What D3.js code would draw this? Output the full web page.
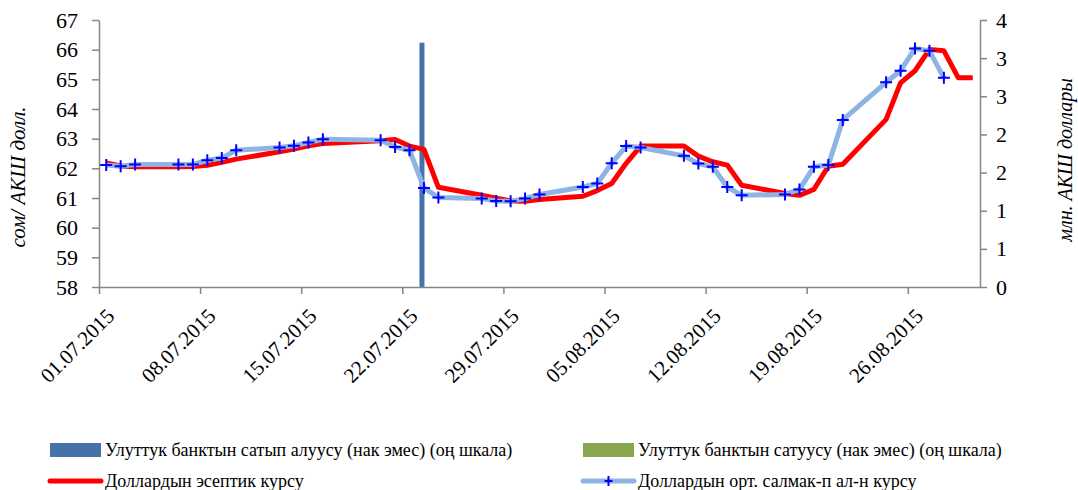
<!DOCTYPE html>
<html>
<head>
<meta charset="utf-8">
<script src="https://cdn.jsdelivr.net/npm/d3@7/dist/d3.min.js"></script>
<style>
  body { margin: 0; background: #fff; }
  svg, svg text { font-family: "Liberation Serif", "Times New Roman", "DejaVu Serif", serif !important; }
</style>
</head>
<body>
<svg id="chart" width="1078" height="490"></svg>
<script>
// ---- data ----
const avgDates = ["01.07.2015","02.07.2015","03.07.2015","06.07.2015","07.07.2015","08.07.2015","09.07.2015","10.07.2015",
  "13.07.2015","14.07.2015","15.07.2015","16.07.2015","20.07.2015","21.07.2015","22.07.2015","23.07.2015","24.07.2015",
  "27.07.2015","28.07.2015","29.07.2015","30.07.2015","31.07.2015","03.08.2015","04.08.2015","05.08.2015","06.08.2015","07.08.2015",
  "10.08.2015","11.08.2015","12.08.2015","13.08.2015","14.08.2015","17.08.2015","18.08.2015","19.08.2015","20.08.2015","21.08.2015",
  "24.08.2015","25.08.2015","26.08.2015","27.08.2015","28.08.2015"];
const avgRate = [62.11,62.07,62.13,62.13,62.13,62.27,62.35,62.61,
  62.70,62.76,62.87,62.98,62.95,62.72,62.61,61.34,61.02,
  60.98,60.90,60.89,60.98,61.12,61.37,61.49,62.17,62.75,62.70,
  62.42,62.16,62.05,61.37,61.09,61.12,61.29,62.05,62.11,63.63,
  64.90,65.29,66.04,65.96,65.05];

const offDates = ["01.07.2015","02.07.2015","03.07.2015","06.07.2015","07.07.2015","08.07.2015","09.07.2015","10.07.2015",
  "13.07.2015","14.07.2015","15.07.2015","16.07.2015","20.07.2015","21.07.2015","22.07.2015","23.07.2015","24.07.2015",
  "27.07.2015","28.07.2015","29.07.2015","30.07.2015","31.07.2015","03.08.2015","04.08.2015","05.08.2015","06.08.2015","07.08.2015",
  "10.08.2015","11.08.2015","12.08.2015","13.08.2015","14.08.2015","17.08.2015","18.08.2015","19.08.2015","20.08.2015","21.08.2015",
  "24.08.2015","25.08.2015","26.08.2015","27.08.2015","28.08.2015","29.08.2015","30.08.2015"];
const offRate = [62.18,62.08,62.05,62.05,62.06,62.10,62.20,62.31,
  62.56,62.65,62.76,62.84,62.93,62.97,62.75,62.64,61.36,
  61.09,60.99,60.90,60.89,60.95,61.06,61.25,61.49,62.17,62.75,
  62.75,62.41,62.22,62.11,61.43,61.15,61.09,61.29,62.07,62.14,
  63.65,64.88,65.29,66.01,65.96,65.05,65.05];

const buyDates = ["23.07.2015"];
const buyValues = [3.66];
const sellDates = [];
const sellValues = [];

const tickLabels = ["01.07.2015","08.07.2015","15.07.2015","22.07.2015","29.07.2015","05.08.2015","12.08.2015","19.08.2015","26.08.2015"];
const leftTicks = [58,59,60,61,62,63,64,65,66,67];
const rightTicks = [0,4/7,8/7,12/7,16/7,20/7,24/7,4];

const legendLabels = ["Улуттук банктын сатып алуусу (нак эмес) (оң шкала)",
  "Улуттук банктын сатуусу (нак эмес) (оң шкала)",
  "Доллардын эсептик курсу",
  "Доллардын орт. салмак-п ал-н курсу"];
const leftTitle = "сом/ АКШ долл.";
const rightTitle = "млн. АКШ доллары";

// ---- setup ----
const FONT = "'Liberation Serif', 'Times New Roman', 'DejaVu Serif', serif";
const parse = d3.timeParse("%d.%m.%Y");
const fmt = d3.timeFormat("%d.%m.%Y");
const mid = d => d3.timeHour.offset(parse(d), 12);

const L = 99, R = 980, T = 20, B = 287;
const svg = d3.select("#chart");

const x = d3.scaleTime().domain([parse("01.07.2015"), parse("31.08.2015")]).range([L, R]);
const yL = d3.scaleLinear().domain([58, 67]).range([B, T]);
const yR = d3.scaleLinear().domain([0, 4]).range([B, T]);

const axisColor = "#868686";

// bars (right axis)
const barW = 5;
svg.append("g").selectAll("rect").data(buyDates.map((d, i) => ({d, v: buyValues[i]})))
  .join("rect")
  .attr("x", p => x(mid(p.d)) - barW / 2 - 2)
  .attr("width", barW)
  .attr("y", p => yR(p.v))
  .attr("height", p => yR(0) - yR(p.v))
  .attr("fill", "#4572A7");
svg.append("g").selectAll("rect").data(sellDates.map((d, i) => ({d, v: sellValues[i]})))
  .join("rect")
  .attr("x", p => x(mid(p.d)) + barW / 2)
  .attr("width", barW)
  .attr("y", p => yR(p.v))
  .attr("height", p => yR(0) - yR(p.v))
  .attr("fill", "#89A54E");

// axes
const gL = svg.append("g").attr("transform", `translate(${L},0)`)
  .call(d3.axisLeft(yL).tickValues(leftTicks).tickSize(7).tickSizeOuter(0).tickFormat(d3.format("d")));
const gR = svg.append("g").attr("transform", `translate(${R},0)`)
  .call(d3.axisRight(yR).tickValues(rightTicks).tickSize(7).tickSizeOuter(0).tickFormat(d3.format(".0f")));
const gB = svg.append("g").attr("transform", `translate(0,${B})`)
  .call(d3.axisBottom(x).tickValues(tickLabels.map(parse)).tickSize(7).tickSizeOuter(0).tickFormat(fmt));

[gL, gR, gB].forEach(g => {
  g.attr("font-family", FONT);
  g.select(".domain").attr("stroke", axisColor).attr("stroke-width", 1.5);
  g.selectAll(".tick line").attr("stroke", axisColor).attr("stroke-width", 1.5);
  g.selectAll("text").attr("fill", "#000").style("font-family", FONT).attr("font-size", 22);
});
gL.selectAll(".tick text").attr("x", -21);
gR.selectAll(".tick text").attr("x", 16);
gB.selectAll(".tick text")
  .attr("text-anchor", "end")
  .attr("font-size", 21)
  .attr("transform", "translate(11,25) rotate(-45)")
  .attr("x", 0).attr("y", 0).attr("dy", "0.35em");

// lines
const lineOff = d3.line().x(p => x(mid(p.d))).y(p => yL(p.v));
const offData = offDates.map((d, i) => ({d, v: offRate[i]}));
const avgData = avgDates.map((d, i) => ({d, v: avgRate[i]}));

svg.append("path").datum(offData).attr("d", lineOff)
  .attr("fill", "none").attr("stroke", "#FF0000").attr("stroke-width", 5).attr("stroke-linejoin", "round");
svg.append("path").datum(avgData).attr("d", lineOff)
  .attr("fill", "none").attr("stroke", "#8DB4E2").attr("stroke-width", 5).attr("stroke-linejoin", "round");

const markerSize = 6;
svg.append("g").selectAll("path").data(avgData).join("path")
  .attr("d", p => `M${x(mid(p.d)) - markerSize},${yL(p.v)}h${2 * markerSize}M${x(mid(p.d))},${yL(p.v) - markerSize}v${2 * markerSize}`)
  .attr("stroke", "#0000FF").attr("stroke-width", 2).attr("fill", "none");

// axis titles
svg.append("text").attr("transform", "translate(25,177) rotate(-90)").style("font-family", FONT)
  .attr("text-anchor", "middle").attr("font-style", "italic").attr("font-size", 21).text(leftTitle);
svg.append("text").attr("transform", "translate(1072,160) rotate(-90)").style("font-family", FONT)
  .attr("text-anchor", "middle").attr("font-style", "italic").attr("font-size", 20).text(rightTitle);

// legend
const lg = svg.append("g").attr("font-size", 18);
const rows = [
  {x: 50, y: 450, type: "rect", color: "#4572A7", label: legendLabels[0]},
  {x: 583, y: 450, type: "rect", color: "#89A54E", label: legendLabels[1]},
  {x: 50, y: 481, type: "line", color: "#FF0000", label: legendLabels[2]},
  {x: 583, y: 481, type: "lineMarker", color: "#8DB4E2", label: legendLabels[3]}
];
rows.forEach(r => {
  if (r.type === "rect") {
    lg.append("rect").attr("x", r.x).attr("y", r.y - 7).attr("width", 51).attr("height", 14).attr("fill", r.color);
  } else {
    lg.append("line").attr("x1", r.x).attr("x2", r.x + 51).attr("y1", r.y).attr("y2", r.y)
      .attr("stroke", r.color).attr("stroke-width", 5).attr("stroke-linecap", "round");
    if (r.type === "lineMarker") {
      const cx = r.x + 25.5;
      lg.append("path").attr("d", `M${cx - 4},${r.y}h8M${cx},${r.y - 5}v10`)
        .attr("stroke", "#0000FF").attr("stroke-width", 2);
    }
  }
  lg.append("text").attr("x", r.x + 55).attr("y", r.y).attr("dy", "0.35em").style("font-family", FONT).text(r.label);
});
</script>
</body>
</html>
